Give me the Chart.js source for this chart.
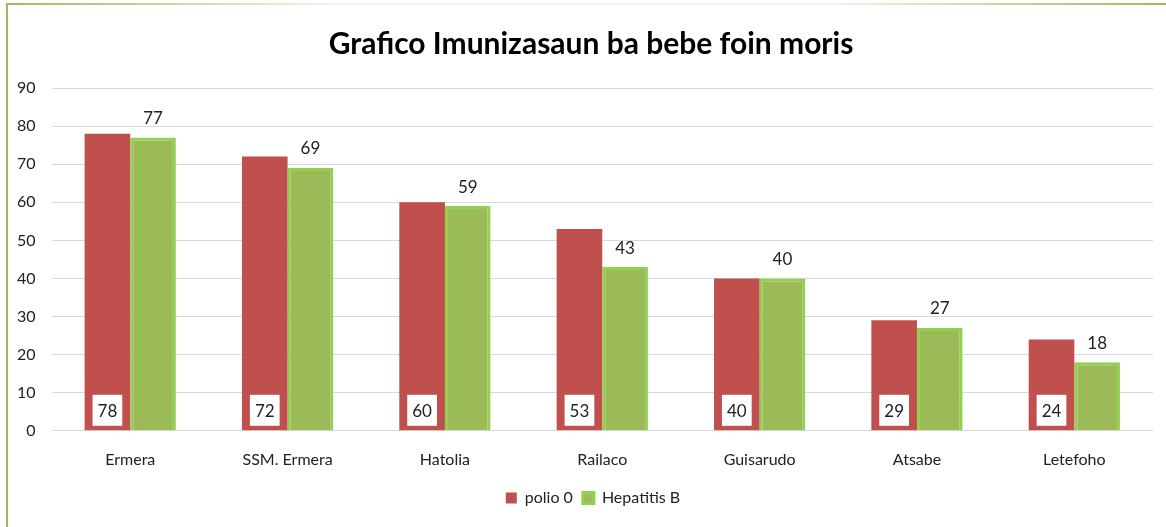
<!DOCTYPE html>
<html>
<head>
<meta charset="utf-8">
<script src="https://cdn.jsdelivr.net/npm/chart.js@4.4.0/dist/chart.umd.min.js"></script>
<style>
  html, body { margin: 0; padding: 0; background: #fff; }
  #wrap { width: 1166px; height: 527px; }
</style>
</head>
<body>
<div id="wrap"><canvas id="myChart" width="1166" height="527"></canvas></div>
<script>
const labels = ['Ermera', 'SSM. Ermera', 'Hatolia', 'Railaco', 'Guisarudo', 'Atsabe', 'Letefoho'];
const polio0 = [78, 72, 60, 53, 40, 29, 24];
const hepatitisB = [77, 69, 59, 43, 40, 27, 18];
const yTicks = [0, 10, 20, 30, 40, 50, 60, 70, 80, 90];

const FONT = 'Lato, "Open Sans", sans-serif';

// green frame: left edge and a top edge that fades in the middle
const framePlugin = {
  id: 'frame',
  beforeDraw(chart) {
    const ctx = chart.ctx;
    const w = chart.width, h = chart.height;
    ctx.save();
    const g = ctx.createLinearGradient(0, 0, w, 0);
    g.addColorStop(0, '#9bbb59');
    g.addColorStop(0.3, '#f4f8ec');
    g.addColorStop(0.7, '#f4f8ec');
    g.addColorStop(1, '#9bbb59');
    ctx.fillStyle = g;
    ctx.fillRect(6, 3, w - 6, 2);
    ctx.fillStyle = '#9bbb59';
    ctx.fillRect(6, 3, 2, h - 3);
    ctx.restore();
  }
};

// title and legend sit a little right of the canvas centre in the original
const nudge = {
  id: 'nudge',
  afterLayout(chart) {
    [[chart.titleBlock, 14], [chart.legend, 16]].forEach(([box, dx]) => {
      if (!box) return;
      box.left += dx;
      box.right += dx;
    });
  }
};

const valueLabels = {
  id: 'valueLabels',
  afterDatasetsDraw(chart) {
    const ctx = chart.ctx;
    const base = chart.scales.y.getPixelForValue(0);
    ctx.save();
    ctx.font = '17px ' + FONT;
    ctx.textAlign = 'center';
    ctx.textBaseline = 'middle';
    chart.getDatasetMeta(0).data.forEach((bar, i) => {
      const txt = String(polio0[i]);
      const tw = ctx.measureText(txt).width;
      const bw = tw + 10, bh = 31;
      ctx.fillStyle = '#ffffff';
      ctx.fillRect(bar.x - bw / 2, base - 5 - bh, bw, bh);
      ctx.fillStyle = '#222';
      ctx.fillText(txt, bar.x, base - 5 - bh / 2 + 1);
    });
    chart.getDatasetMeta(1).data.forEach((bar, i) => {
      ctx.fillStyle = '#222';
      ctx.fillText(String(hepatitisB[i]), bar.x, bar.y - 19);
    });
    ctx.restore();
  }
};

const ctx = document.getElementById('myChart').getContext('2d');
const myChart = new Chart(ctx, {
  type: 'bar',
  data: {
    labels: labels,
    datasets: [{
      label: 'polio 0',
      data: polio0,
      backgroundColor: '#c0504d',
      borderWidth: 0
    }, {
      label: 'Hepatitis B',
      data: hepatitisB,
      backgroundColor: '#9bbb59',
      borderColor: '#92d050',
      borderWidth: 3
    }]
  },
  options: {
    responsive: false,
    animation: false,
    categoryPercentage: 0.58,
    barPercentage: 1,
    layout: { padding: { left: 1, right: 13, top: 18, bottom: 11 } },
    plugins: {
      title: {
        display: true,
        text: 'Grafico Imunizasaun ba bebe foin moris',
        color: '#000',
        font: { family: FONT, size: 30, weight: 'bold' },
        padding: { top: 8, bottom: 26 }
      },
      legend: {
        position: 'bottom',
        labels: {
          color: '#222',
          font: { family: FONT, size: 16 },
          boxWidth: 11,
          boxHeight: 11,
          padding: 10
        }
      },
      tooltip: { enabled: false }
    },
    scales: {
      x: {
        grid: { display: false },
        border: { display: false },
        ticks: { color: '#222', font: { family: FONT, size: 16 }, padding: 11 }
      },
      y: {
        min: 0,
        max: 90,
        afterBuildTicks(axis) { axis.ticks = yTicks.map(v => ({ value: v })); },
        grid: { color: '#d9d9d9', lineWidth: 1, drawTicks: false },
        border: { display: false },
        ticks: { color: '#222', font: { family: FONT, size: 16 }, padding: 16 }
      }
    }
  },
  plugins: [framePlugin, nudge, valueLabels]
});
</script>
</body>
</html>
